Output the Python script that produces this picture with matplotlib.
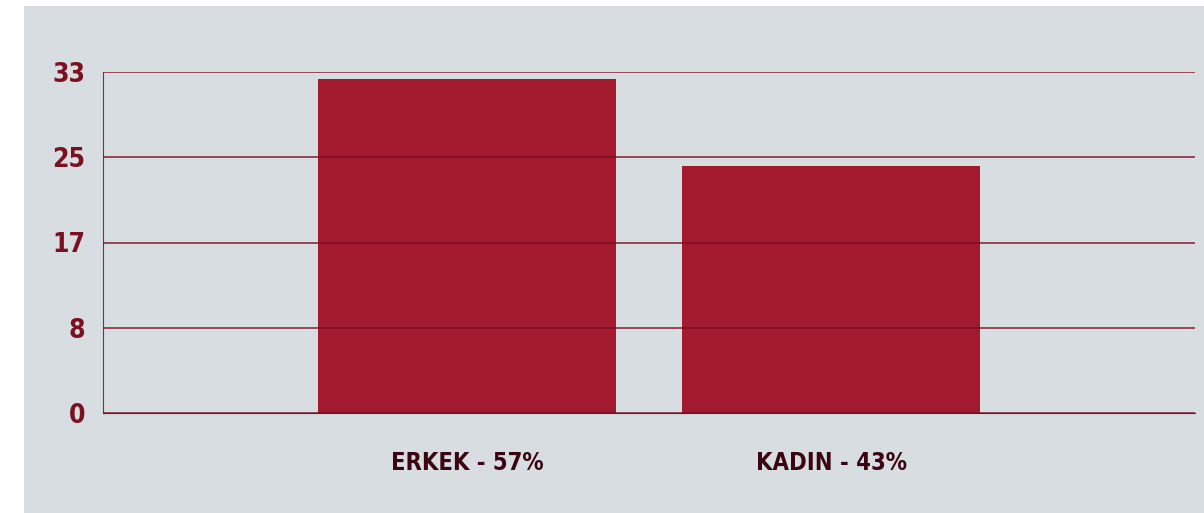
import matplotlib.pyplot as plt
from matplotlib.patches import Rectangle

categories = ['ERKEK - 57%', 'KADIN - 43%']
counts = [32.3, 23.9]
tick_vals = [0, 8.25, 16.5, 24.75, 33]
tick_labels = ['0', '8', '17', '25', '33']

plt.rcParams['font.family'] = ['DejaVu Sans']
plt.rcParams['font.stretch'] = 'condensed'

fig = plt.figure(figsize=(12.04, 5.13), dpi=100)
fig.patch.set_facecolor('white')
# grey panel behind the chart, leaves white strip at left and top
fig.patches.append(Rectangle((24 / 1204, 0), 1, 507 / 513, transform=fig.transFigure,
                             facecolor='#d8dde1', edgecolor='none', zorder=-10))

ax = fig.add_axes([103 / 1204, 1 - 413 / 513, 1092 / 1204, 341 / 513])
ax.set_facecolor('none')

ax.bar(range(len(categories)), counts, width=0.82, color='#a31a2e', zorder=2)

ax.set_xlim(-1, 2)
ax.set_ylim(0, 33)
ax.set_yticks(tick_vals)
ax.set_yticklabels(tick_labels, fontsize=19, fontweight='bold', color='#7a1020')
ax.set_xticks(range(len(categories)))
ax.set_xticklabels(categories, fontsize=17, fontweight='bold', color='#3a0510')
ax.tick_params(length=0, axis='y', pad=13)
ax.tick_params(length=0, axis='x', pad=27)

for v in tick_vals:
    ax.axhline(v, color='#7a1020', lw=1.2, zorder=3, alpha=0.85)

for s in ['top', 'right']:
    ax.spines[s].set_visible(False)
ax.spines['left'].set_color('#8b2a3a')
ax.spines['bottom'].set_color('#7a1020')

fig.savefig('out.png', dpi=100, facecolor=fig.get_facecolor())
